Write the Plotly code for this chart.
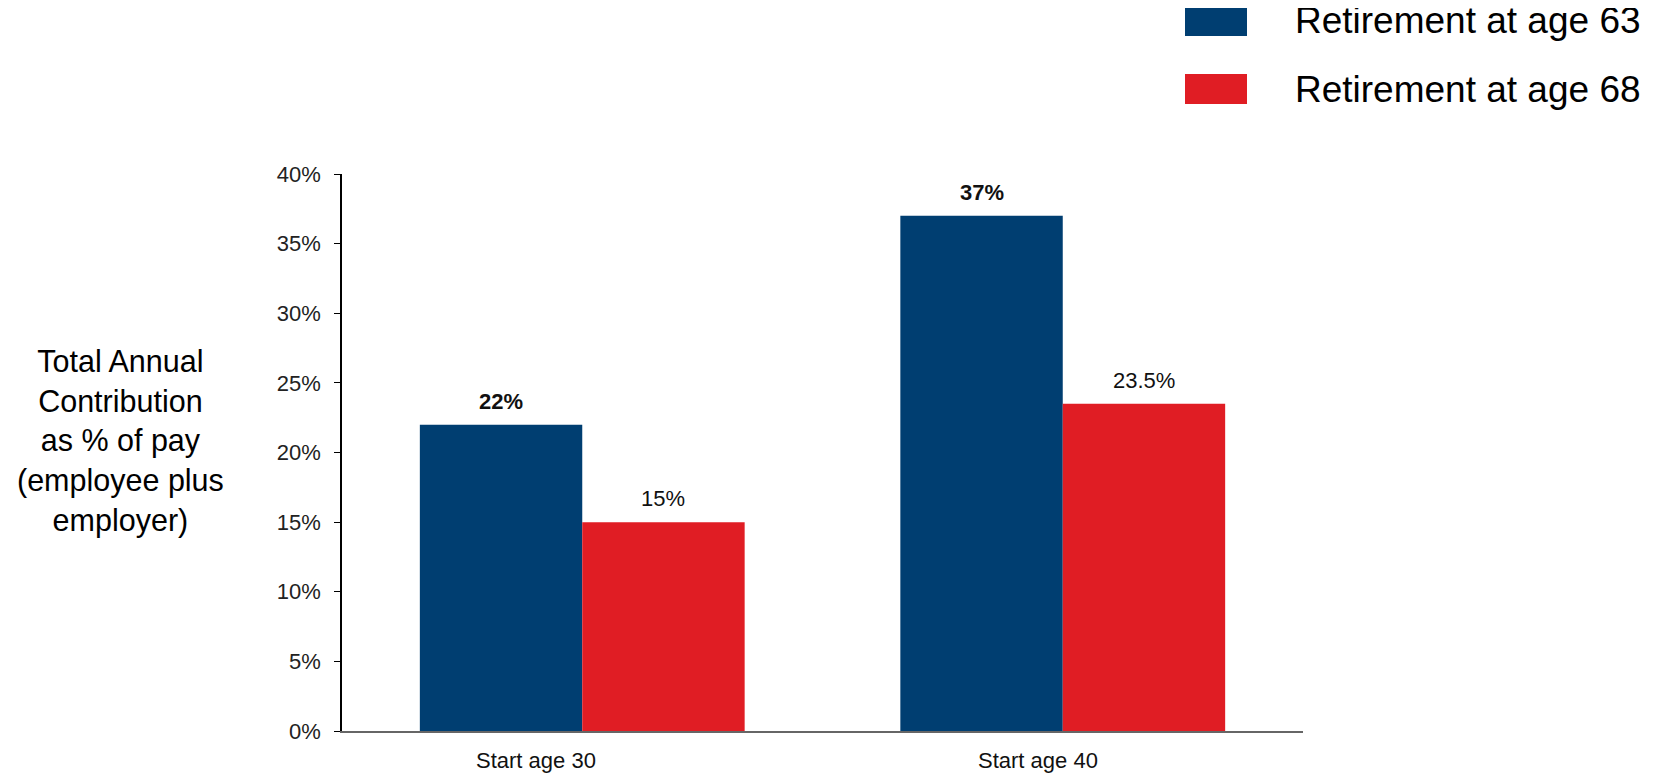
import plotly.graph_objects as go

categories = ["Start age 30", "Start age 40"]
series_names = ["Retirement at age 63", "Retirement at age 68"]
ret63 = [22, 37]
ret68 = [15, 23.5]
labels63 = ["22%", "37%"]
labels68 = ["15%", "23.5%"]
y_ticks = [0, 5, 10, 15, 20, 25, 30, 35, 40]
y_tick_text = ["0%", "5%", "10%", "15%", "20%", "25%", "30%", "35%", "40%"]
y_title_lines = ["Total Annual", "Contribution", "as % of pay", "(employee plus", "employer)"]

BLUE = "#003E71"
RED = "#E01D24"
FONT = "Liberation Sans, Arial, sans-serif"

OFF = 8  # default page body margin
W, H = 1656 - OFF, 775 - OFF
# plot area in page pixels
L, R, T, B = 342, 1303, 174, 731


def px(x):
    return (x - L) / (R - L)


def py(y):
    return (B - y) / (B - T)


fig = go.Figure()
fig.add_trace(go.Bar(x=categories, y=ret63, name=series_names[0],
                     marker=dict(color=BLUE, line=dict(width=0))))
fig.add_trace(go.Bar(x=categories, y=ret68, name=series_names[1],
                     marker=dict(color=RED, line=dict(width=0))))

annotations = []
# data labels
for i, c in enumerate(categories):
    annotations.append(dict(x=c, y=ret63[i], xref="x", yref="y", text="<b>" + labels63[i] + "</b>",
                            showarrow=False, xshift=-81, yanchor="bottom", yshift=9,
                            font=dict(family=FONT, size=22, color="#111111")))
    annotations.append(dict(x=c, y=ret68[i], xref="x", yref="y", text=labels68[i],
                            showarrow=False, xshift=81, yanchor="bottom", yshift=9,
                            font=dict(family=FONT, size=22, color="#111111")))
# category labels (offset as in the reference)
cat_shifts = [-46, -25]
for i, c in enumerate(categories):
    annotations.append(dict(x=c, y=py(760), xref="x", yref="paper", text=c,
                            showarrow=False, xshift=cat_shifts[i], yanchor="middle",
                            borderpad=0,
                            font=dict(family=FONT, size=22, color="#111111")))
# y title
annotations.append(dict(x=px(120), y=py(440.5), xref="paper", yref="paper",
                        text="<br>".join(y_title_lines), showarrow=False,
                        xanchor="center", yanchor="middle", align="center",
                        font=dict(family=FONT, size=30.5, color="#000000")))
# legend
shapes = []
leg_rows = [(6, 36, BLUE), (74, 104, RED)]
for (y0, y1, col), name in zip(leg_rows, series_names):
    shapes.append(dict(type="rect", xref="paper", yref="paper",
                       x0=px(1185), x1=px(1247), y0=py(y1), y1=py(y0),
                       fillcolor=col, line=dict(width=0)))
    annotations.append(dict(x=px(1294), y=py((y0 + y1) / 2), xref="paper", yref="paper",
                            text=name, showarrow=False, xanchor="left", yanchor="middle",
                            borderpad=0,
                            font=dict(family=FONT, size=37, color="#000000")))

fig.update_layout(
    width=W, height=H,
    margin=dict(l=L - OFF, r=W - (R - OFF), t=T - OFF, b=H - (B - OFF), pad=0),
    paper_bgcolor="white", plot_bgcolor="white",
    barmode="group", bargap=0.324, bargroupgap=0,
    showlegend=False,
    font=dict(family=FONT, color="#222222"),
    annotations=annotations, shapes=shapes,
)
fig.update_xaxes(showticklabels=False, showgrid=False, zeroline=False,
                 showline=True, linecolor="#666666", linewidth=2, ticks="",
                 range=[-0.5, 1.5])
fig.update_yaxes(range=[0, 40], tickvals=y_ticks, ticktext=y_tick_text,
                 showgrid=False, zeroline=False, showline=True, linecolor="#000000",
                 linewidth=1.5, ticks="outside", ticklen=6, tickcolor="#000000",
                 tickwidth=1, ticklabelstandoff=9,
                 tickfont=dict(family=FONT, size=22, color="#222222"))

fig.write_html("out.html")
